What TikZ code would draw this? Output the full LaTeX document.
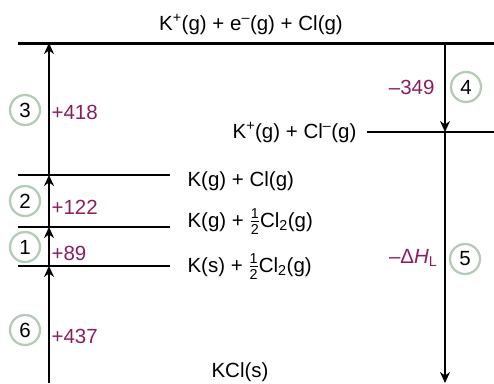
\documentclass[tikz,border=0pt]{standalone}
\usepackage{amsmath}
\usepackage{fontspec}
\setmainfont{Liberation Sans}
\usetikzlibrary{arrows.meta}
\definecolor{valpurple}{HTML}{8C1D5E}
\definecolor{ringgreen}{HTML}{B5CBB5}
\newcommand{\halfcl}{$\frac{\text{1}}{\text{2}}$}

\begin{document}
\begin{tikzpicture}[x=1pt, y=-1pt, font=\fontsize{20.5}{24}\selectfont,
  level/.style={line width=2.8pt},
  steparrow/.style={line width=1.4pt, -{Stealth[length=11pt,width=10pt]}},
  stepnum/.style={circle, draw=ringgreen, line width=2.3pt, minimum size=30pt, inner sep=0pt},
  val/.style={text=valpurple},
  species/.style={anchor=base west}]
  \useasboundingbox (0,0) rectangle (494,383);
  % Energy levels
  \draw[level, line width=3pt] (18,43) coordinate (topL) -- (494,43) coordinate (topR);
  \draw[level] (367,132) coordinate (ionL) -- (494,132) coordinate (ionR);
  \draw[level] (18,175) coordinate (atL) -- (170,175) coordinate (atR);
  \draw[level] (18,227) coordinate (hfL) -- (170,227) coordinate (hfR);
  \draw[level] (18,266) coordinate (elL) -- (170,266) coordinate (elR);
  % Level labels
  \node[anchor=base] (topLbl) at (251,30) {K\textsuperscript{+}(g) + e\textsuperscript{–}(g) + Cl(g)};
  \node[anchor=base east] (ionLbl) at (360,138) {K\textsuperscript{+}(g) + Cl\textsuperscript{–}(g)};
  \node[species] (atLbl) at (184,186) {K(g) + Cl(g)};
  \node[species] (hfLbl) at (184,227) {K(g) + \halfcl Cl\textsubscript{2}(g)};
  \node[species] (elLbl) at (184,272) {K(s) + \halfcl Cl\textsubscript{2}(g)};
  \node[anchor=base] (kclLbl) at (240,377) {KCl(s)};
  % Arrow end points
  \coordinate (l6) at (49,383);
  \coordinate (l1) at (49,266);
  \coordinate (l2) at (49,227);
  \coordinate (l3) at (49,175);
  \coordinate (l4) at (49,43);
  \coordinate (r4) at (445,43);
  \coordinate (r5) at (445,132);
  \coordinate (rEnd) at (445,383);
  % Left cycle (up)
  \draw[steparrow] (l6) -- (l1);
  \draw[steparrow] (l1) -- (l2);
  \draw[steparrow] (l2) -- (l3);
  \draw[steparrow] (l3) -- (l4);
  % Right cycle (down)
  \draw[steparrow] (r4) -- (r5);
  \draw[steparrow] (r5) -- (rEnd);
  % Step numbers
  \node[stepnum] (n3) at (25,110) {3};
  \node[stepnum] (n2) at (25,201) {2};
  \node[stepnum] (n1) at (25,247) {1};
  \node[stepnum] (n6) at (25,330) {6};
  \node[stepnum] (n4) at (466,87) {4};
  \node[stepnum] (n5) at (465,259) {5};
  % Enthalpy values
  \node[val, anchor=west] (v3) at (48,112) {+418};
  \node[val, anchor=west] (v2) at (48,207) {+122};
  \node[val, anchor=west] (v1) at (48,253) {+89};
  \node[val, anchor=west] (v6) at (48,336) {+437};
  \node[val, anchor=east] (v4) at (438,87) {–349};
  \node[val, anchor=east] (v5) at (441,258) {–Δ\textit{H}\textsubscript{L}};
\end{tikzpicture}
\end{document}
